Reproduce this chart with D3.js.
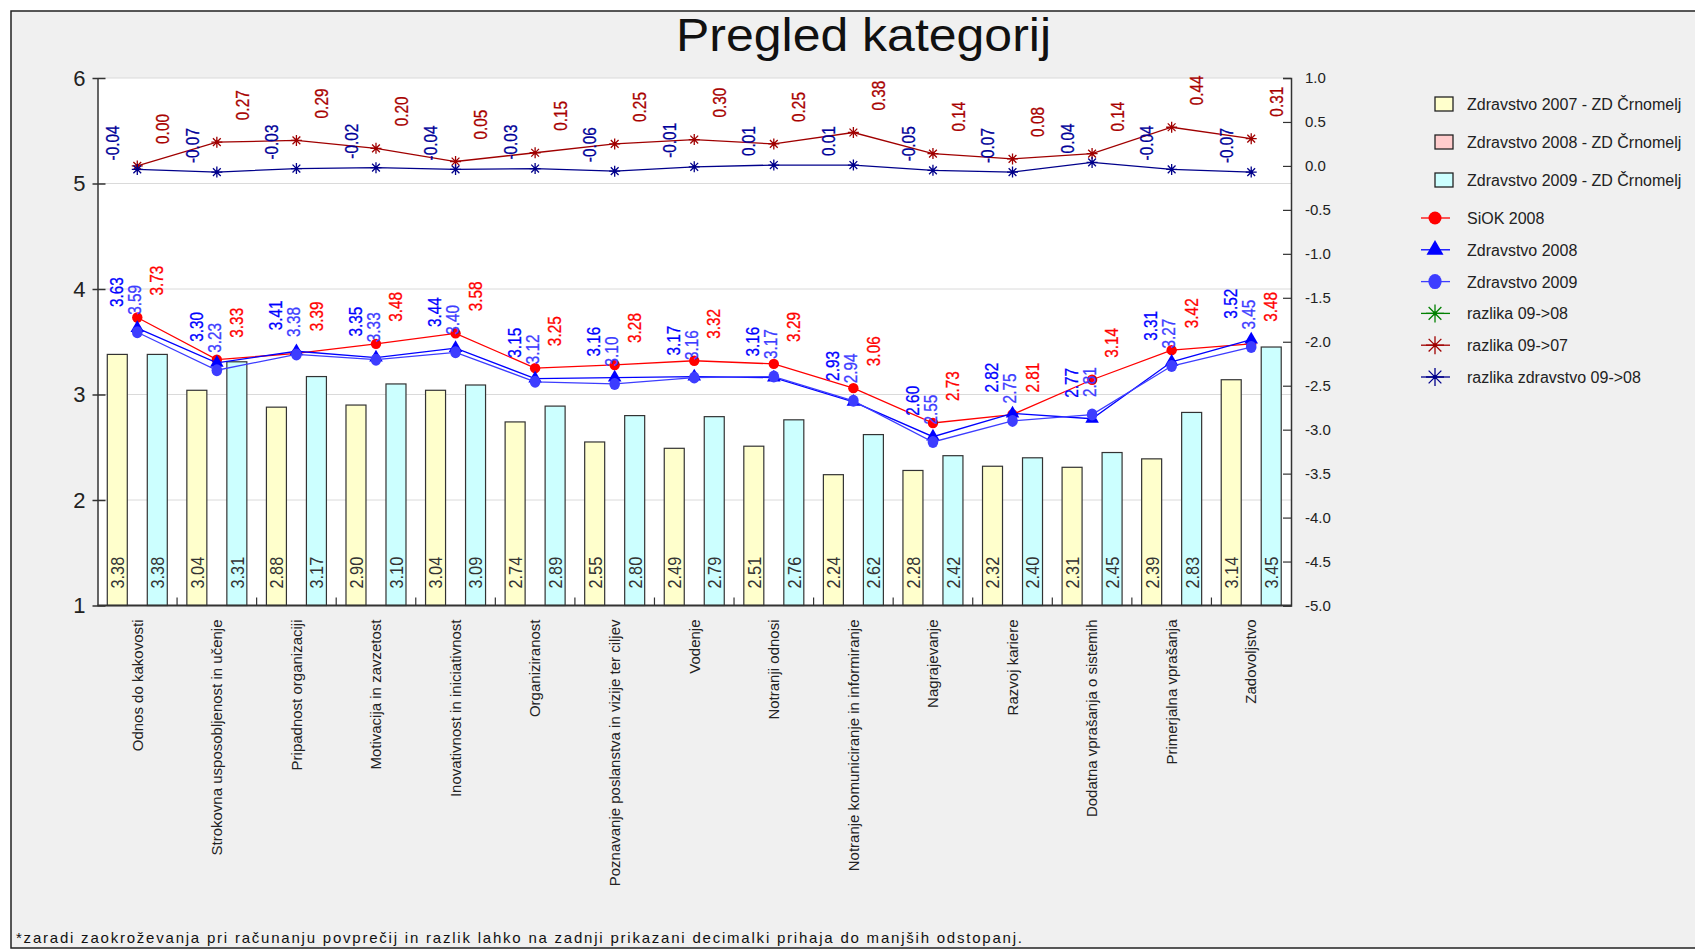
<!DOCTYPE html>
<html>
<head>
<meta charset="utf-8">
<script src="https://cdn.jsdelivr.net/npm/d3@7"></script>
<style>
  body { margin: 0; background: #fff; }
  svg { display: block; font-family: "Liberation Sans", Arial, sans-serif; }
</style>
</head>
<body>
<div id="chart"></div>
<script>
const categories = [
  "Odnos do kakovosti",
  "Strokovna usposobljenost in učenje",
  "Pripadnost organizaciji",
  "Motivacija in zavzetost",
  "Inovativnost in iniciativnost",
  "Organiziranost",
  "Poznavanje poslanstva in vizije ter ciljev",
  "Vodenje",
  "Notranji odnosi",
  "Notranje komuniciranje in informiranje",
  "Nagrajevanje",
  "Razvoj kariere",
  "Dodatna vprašanja o sistemih",
  "Primerjalna vprašanja",
  "Zadovoljstvo"
];

// bars
const zd2007 = [3.38, 3.04, 2.88, 2.90, 3.04, 2.74, 2.55, 2.49, 2.51, 2.24, 2.28, 2.32, 2.31, 2.39, 3.14];
const zd2008 = [null, null, null, null, null, null, null, null, null, null, null, null, null, null, null];
const zd2009 = [3.38, 3.31, 3.17, 3.10, 3.09, 2.89, 2.80, 2.79, 2.76, 2.62, 2.42, 2.40, 2.45, 2.83, 3.45];

// lines on left axis
const siok2008 = [3.73, 3.33, 3.39, 3.48, 3.58, 3.25, 3.28, 3.32, 3.29, 3.06, 2.73, 2.81, 3.14, 3.42, 3.48];
const zdravstvo2008 = [3.63, 3.30, 3.41, 3.35, 3.44, 3.15, 3.16, 3.17, 3.16, 2.93, 2.60, 2.82, 2.77, 3.31, 3.52];
const zdravstvo2009 = [3.59, 3.23, 3.38, 3.33, 3.40, 3.12, 3.10, 3.16, 3.17, 2.94, 2.55, 2.75, 2.81, 3.27, 3.45];

// differences on right axis
const razlika0908 = [null, null, null, null, null, null, null, null, null, null, null, null, null, null, null];
const razlika0907 = [0.00, 0.27, 0.29, 0.20, 0.05, 0.15, 0.25, 0.30, 0.25, 0.38, 0.14, 0.08, 0.14, 0.44, 0.31];
const razlikaZdr0908 = [-0.04, -0.07, -0.03, -0.02, -0.04, -0.03, -0.06, -0.01, 0.01, 0.01, -0.05, -0.07, 0.04, -0.04, -0.07];

const leftTicks = [1, 2, 3, 4, 5, 6];
const rightTicks = [1.0, 0.5, 0.0, -0.5, -1.0, -1.5, -2.0, -2.5, -3.0, -3.5, -4.0, -4.5, -5.0];

const W = 1695, H = 949;
const plotL = 97.5, plotR = 1291, plotT = 78, plotB = 605.5;

const svg = d3.select("#chart").append("svg")
    .attr("width", W)
    .attr("height", H);

// frame
svg.append("rect")
    .attr("x", 11).attr("y", 11)
    .attr("width", 1700).attr("height", 937)
    .attr("fill", "#f0f0f0")
    .attr("stroke", "#222")
    .attr("stroke-width", 1.5);

const x = d3.scaleBand().domain(categories).range([plotL, plotR]);
const xs = d3.scaleBand().domain(["2007", "2008", "2009"]).range([-30, 30]);
const y = d3.scaleLinear().domain([1, 6]).range([plotB, plotT]);
const y2 = d3.scaleLinear().domain([-5, 1]).range([plotB, plotT]);
const cx = i => x(categories[i]) + x.bandwidth() / 2;

svg.append("rect")
    .attr("x", plotL).attr("y", plotT)
    .attr("width", plotR - plotL).attr("height", plotB - plotT)
    .attr("fill", "#fff");

// grid
svg.append("g").selectAll("line")
    .data(leftTicks.slice(1))
    .join("line")
    .attr("x1", plotL).attr("x2", plotR)
    .attr("y1", d => y(d)).attr("y2", d => y(d))
    .attr("stroke", "#dadada")
    .attr("stroke-width", 1);

// bars
const barSeries = [
    { key: "2007", values: zd2007, fill: "#ffffcc" },
    { key: "2008", values: zd2008, fill: "#ffcccc" },
    { key: "2009", values: zd2009, fill: "#ccffff" }
];

// rotated text squeezed along its length (narrow face look)
const narrow = (sel, px, py, k) => sel.attr("transform", `translate(${px},${py}) rotate(-90) scale(${k},1)`);

barSeries.forEach(s => {
    const g = svg.append("g");
    const pts = s.values.map((v, i) => ({ v, i })).filter(d => d.v != null);
    g.selectAll("rect")
        .data(pts)
        .join("rect")
        .attr("x", d => cx(d.i) + xs(s.key))
        .attr("width", xs.bandwidth())
        .attr("y", d => y(d.v))
        .attr("height", d => y(1) - y(d.v))
        .attr("fill", s.fill)
        .attr("stroke", "#333")
        .attr("stroke-width", 1.2);
    g.selectAll("text")
        .data(pts)
        .join("text")
        .each(function (d) {
            narrow(d3.select(this), cx(d.i) + xs(s.key) + xs.bandwidth() / 2, plotB - 17, 0.86);
        })
        .attr("dy", "0.36em")
        .attr("font-size", 19)
        .attr("fill", "#333")
        .text(d => d.v.toFixed(2));
});

// axes
const gl = svg.append("g").attr("transform", `translate(${plotL},0)`)
    .call(d3.axisLeft(y).tickValues(leftTicks).tickSize(0).tickPadding(12).tickFormat(d3.format("d")));
gl.select(".domain").attr("stroke", "#333").attr("stroke-width", 1.5);
gl.selectAll(".tick line").attr("x1", -5).attr("x2", 8).attr("stroke", "#333").attr("stroke-width", 1.5);
gl.selectAll(".tick text").attr("font-size", 22).attr("fill", "#222")
    .attr("font-family", '"Liberation Sans", Arial, sans-serif');

const minorTicks = d3.range(-50, 11).map(v => v / 10);
const gr = svg.append("g").attr("transform", `translate(${plotR},0)`);
gr.call(d3.axisRight(y2).tickValues(minorTicks).tickSize(-6).tickFormat(""));
gr.call(d3.axisRight(y2).tickValues(rightTicks).tickSize(-8).tickPadding(14).tickFormat(d => d.toFixed(1)));
gr.selectAll(".domain").attr("stroke", "#333").attr("stroke-width", 1.5);
gr.selectAll(".tick line").attr("stroke", "#333").attr("stroke-width", 1.2);
gr.selectAll(".tick text").attr("font-size", 15).attr("fill", "#222")
    .attr("font-family", '"Liberation Sans", Arial, sans-serif');

svg.append("line")
    .attr("x1", plotL).attr("x2", plotR + 1)
    .attr("y1", plotB).attr("y2", plotB)
    .attr("stroke", "#333").attr("stroke-width", 2);
svg.append("g").selectAll("line")
    .data(categories.slice(1))
    .join("line")
    .attr("x1", d => x(d)).attr("x2", d => x(d))
    .attr("y1", plotB).attr("y2", plotB - 8)
    .attr("stroke", "#333").attr("stroke-width", 1.2);

// category labels
svg.append("g").selectAll("text")
    .data(categories)
    .join("text")
    .attr("transform", (d, i) => `translate(${cx(i)},${plotB + 14}) rotate(-90)`)
    .attr("dy", "0.35em")
    .attr("text-anchor", "end")
    .attr("font-size", 15)
    .attr("fill", "#222")
    .text(d => d);

// lines and markers
function starPath(r) {
    const d = r * 0.7071;
    return `M${-r},0L${r},0M0,${-r}L0,${r}M${-d},${-d}L${d},${d}M${-d},${d}L${d},${-d}`;
}

const lineSeries = [
    { name: "SiOK 2008", values: siok2008, scale: y, color: "#ff0000", label: "#ff0000", marker: "circle", dx: 19.5, dy: 22 },
    { name: "Zdravstvo 2008", values: zdravstvo2008, scale: y, color: "#0000ff", label: "#0000ff", marker: "triangle", dx: -21, dy: 21 },
    { name: "Zdravstvo 2009", values: zdravstvo2009, scale: y, color: "#3d3dff", label: "#3d3dff", marker: "dot", dx: -3, dy: 17.5 },
    { name: "razlika 09->08", values: razlika0908, scale: y2, color: "#008000", label: "#008000", marker: "star", dx: 0, dy: 20 },
    { name: "razlika 09->07", values: razlika0907, scale: y2, color: "#a00000", label: "#a80000", marker: "star", dx: 25, dy: 22 },
    { name: "razlika zdravstvo 09->08", values: razlikaZdr0908, scale: y2, color: "#00008b", label: "#000099", marker: "star", dx: -25, dy: 9 }
];

function drawMarker(g, type, color, big) {
    const k = big ? 1.25 : 1;
    if (type === "circle") {
        g.append("circle").attr("r", 5.2 * k).attr("fill", color);
    } else if (type === "dot") {
        g.append("ellipse").attr("rx", 5.3 * k).attr("ry", 6 * k).attr("fill", color);
    } else if (type === "triangle") {
        g.append("path").attr("d", d3.symbol(d3.symbolTriangle, 80 * k * k)()).attr("fill", color);
    } else {
        g.append("path").attr("d", starPath(big ? 9 : 5.5)).attr("stroke", color).attr("stroke-width", 1.3).attr("fill", "none");
        g.append("circle").attr("r", big ? 2 : 1.6).attr("fill", color);
    }
}

lineSeries.forEach(s => {
    const pts = s.values.map((v, i) => ({ v, i })).filter(d => d.v != null);
    if (!pts.length) return;
    const line = d3.line().x(d => cx(d.i)).y(d => s.scale(d.v));
    svg.append("path")
        .attr("d", line(pts))
        .attr("fill", "none")
        .attr("stroke", s.color)
        .attr("stroke-width", 1.3);
    pts.forEach(d => {
        const g = svg.append("g").attr("transform", `translate(${cx(d.i)},${s.scale(d.v)})`);
        drawMarker(g, s.marker, s.color, false);
    });
});

lineSeries.forEach(s => {
    const pts = s.values.map((v, i) => ({ v, i })).filter(d => d.v != null);
    svg.append("g").selectAll("text")
        .data(pts)
        .join("text")
        .each(function (d) {
            narrow(d3.select(this), cx(d.i) + s.dx, s.scale(d.v) - s.dy, 0.83);
        })
        .attr("dy", "0.36em")
        .attr("font-size", 18.5)
        .attr("fill", s.label)
        .attr("stroke", s.label)
        .attr("stroke-width", 0.3)
        .text(d => d.v.toFixed(2));
});

// legend
const legend = svg.append("g");
barSeries.forEach((s, i) => {
    const cy = 104 + i * 38;
    legend.append("rect")
        .attr("x", 1435).attr("y", cy - 7)
        .attr("width", 18).attr("height", 14)
        .attr("fill", s.fill).attr("stroke", "#222").attr("stroke-width", 1.3);
    legend.append("text")
        .attr("x", 1467).attr("y", cy + 6)
        .attr("font-size", 16).attr("fill", "#222")
        .text(`Zdravstvo ${s.key} - ZD Črnomelj`);
});
lineSeries.forEach((s, i) => {
    const cy = 218 + i * 31.8;
    legend.append("line")
        .attr("x1", 1421).attr("x2", 1450)
        .attr("y1", cy).attr("y2", cy)
        .attr("stroke", s.color).attr("stroke-width", 1.3);
    drawMarker(legend.append("g").attr("transform", `translate(1435,${cy})`), s.marker, s.color, true);
    legend.append("text")
        .attr("x", 1467).attr("y", cy + 6)
        .attr("font-size", 16).attr("fill", "#222")
        .text(s.name);
});

// title and note
svg.append("text")
    .attr("x", 676).attr("y", 51)
    .attr("font-size", 46)
    .attr("fill", "#111")
    .attr("textLength", 375)
    .attr("lengthAdjust", "spacingAndGlyphs")
    .text("Pregled kategorij");

svg.append("text")
    .attr("x", 16).attr("y", 943)
    .attr("font-size", 15)
    .attr("fill", "#111")
    .attr("textLength", 1006)
    .attr("lengthAdjust", "spacing")
    .text("*zaradi zaokroževanja pri računanju povprečij in razlik lahko na zadnji prikazani decimalki prihaja do manjših odstopanj.");
</script>
</body>
</html>
